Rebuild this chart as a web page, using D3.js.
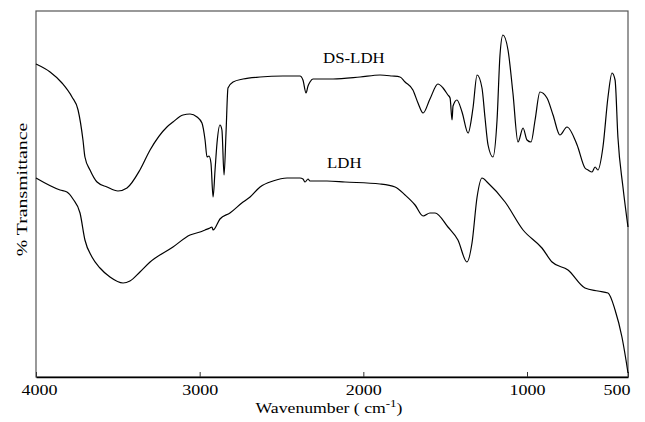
<!DOCTYPE html>
<html>
<head>
<meta charset="utf-8">
<script src="https://cdn.jsdelivr.net/npm/d3@7"></script>
<style>
  body { margin: 0; background: #fff; }
  text { font-family: "Liberation Serif", "Times New Roman", serif; fill: #000; }
</style>
</head>
<body>
<div id="canvas"></div>
<script>
// wavenumber (cm-1), transmittance (arbitrary, curves offset)
const dsLdh = [
  [4000,62.6],[3914,61.0],[3841,58.8],[3780,56.0],[3743,53.4],[3713,47.4],[3701,44.0],[3670,41.4],
  [3627,39.0],[3566,38.0],[3499,37.2],[3444,37.8],[3365,41.4],[3303,45.4],[3200,50.0],[3163,51.0],
  [3102,52.4],[3059,52.6],[3016,52.0],[2986,50.8],[2967,47.4],[2955,44.0],[2943,44.2],[2931,42.8],
  [2918,36.0],[2906,41.4],[2894,46.8],[2876,50.4],[2864,49.4],[2851,40.4],[2839,48.8],[2827,57.8],
  [2796,59.0],[2735,59.6],[2631,60.0],[2491,60.2],[2387,60.2],[2369,59.4],[2350,56.8],[2338,58.2],
  [2326,59.0],[2308,59.6],[2185,59.6],[2020,60.0],[1898,60.4],[1825,60.2],[1776,60.0],[1745,59.0],
  [1697,57.4],[1666,54.8],[1635,52.8],[1593,55.6],[1544,58.6],[1513,57.8],[1483,56.4],[1470,55.8],
  [1458,51.4],[1452,54.2],[1428,55.4],[1397,53.0],[1360,48.8],[1330,53.8],[1305,60.4],[1275,57.8],
  [1257,52.0],[1238,46.4],[1208,44.0],[1183,51.4],[1165,64.4],[1147,68.4],[1116,65.4],[1086,56.8],
  [1055,47.0],[1024,49.8],[1000,47.4],[980,47.0],[960,51.4],[936,57.0],[901,55.8],[871,52.4],
  [837,48.4],[802,50.0],[752,46.4],[713,41.8],[698,41.4],[678,41.0],[663,42.0],[649,41.4],
  [624,46.0],[599,56.0],[579,60.8],[564,59.4],[550,48.0],[525,38.0],[500,30.0]
];

const ldh = [
  [4000,39.8],[3853,37.4],[3811,37.0],[3774,35.6],[3731,32.8],[3701,27.4],[3658,24.0],[3609,21.8],
  [3548,20.0],[3468,18.8],[3426,19.2],[3365,21.0],[3303,23.0],[3163,26.0],[3059,28.4],[2998,29.0],
  [2967,29.4],[2937,29.8],[2925,30.0],[2918,29.4],[2876,31.6],[2815,32.8],[2735,35.0],[2692,36.0],
  [2631,38.0],[2552,39.2],[2466,39.8],[2387,39.8],[2369,39.6],[2356,39.0],[2338,39.6],[2326,39.2],
  [2222,39.2],[2112,39.0],[1898,38.6],[1806,38.0],[1745,36.4],[1684,34.4],[1635,32.2],[1593,32.8],
  [1562,32.8],[1483,30.0],[1422,27.4],[1367,23.0],[1336,26.8],[1305,36.0],[1275,39.8],[1238,38.8],
  [1134,35.0],[1024,29.4],[926,25.8],[876,23.0],[797,21.4],[713,17.8],[649,17.2],[599,16.8],
  [564,13.4],[530,8.0],[510,3.4],[500,0.8]
];

const xTicks = [4000, 3000, 2000, 1000, 500];
const labels = [
  { name: "DS-LDH", wn: 2246, t: 62.8 },
  { name: "LDH", wn: 2222, t: 41.8 }
];

const width = 645;
const height = 422;
const margin = { top: 11, left: 36, bottom: 45, right: 17 };
const iwidth = width - margin.left - margin.right;
const iheight = height - margin.top - margin.bottom;

const svg = d3.select("#canvas").append("svg")
    .attr("width", width)
    .attr("height", height);

const g = svg.append("g").attr("transform", `translate(${margin.left},${margin.top})`);

// the axis is stretched below 1000 in the original plot
const x = d3.scaleLinear()
    .domain([4000, 1000, 500])
    .range([0, 491, iwidth]);

const y = d3.scaleLinear()
    .domain([0, 73.2])
    .range([iheight, 0]);

// frame
g.append("rect")
    .attr("width", iwidth)
    .attr("height", iheight)
    .style("fill", "none")
    .style("stroke", "#555")
    .style("stroke-width", 1.2);

const xAxis = g.append("g")
    .attr("transform", `translate(0, ${iheight})`)
    .call(d3.axisBottom(x)
        .tickValues(xTicks)
        .tickFormat(d3.format("d"))
        .tickSizeInner(-5)
        .tickSizeOuter(0)
        .tickPadding(7));

xAxis.select(".domain").style("stroke", "#000").style("stroke-width", 1.3);
xAxis.selectAll(".tick line").style("stroke", "#333");
xAxis.selectAll(".tick text")
    .style("font-size", "15px")
    .style("font-family", "Liberation Serif")
    .attr("text-anchor", d => d === 500 ? "end" : "middle")
    .attr("x", d => d === 500 ? 2 / 1.2 : (d === 4000 ? 3 / 1.2 : 0))
    .attr("transform", "scale(1.2,1)");

const line = d3.line()
    .x(d => x(d[0]))
    .y(d => y(d[1]))
    .curve(d3.curveMonotoneX);

[dsLdh, ldh].forEach(s => {
  g.append("path")
      .datum(s)
      .attr("d", line)
      .style("fill", "none")
      .style("stroke", "#000")
      .style("stroke-width", 1.2);
});

g.selectAll(".lbl").data(labels).enter().append("text")
    .attr("class", "lbl")
    .attr("transform", d => `translate(${x(d.wn)},${y(d.t)}) scale(1.2,1)`)
    .style("font-size", "14px")
    .text(d => d.name);

// axis titles
const xt = svg.append("text")
    .attr("transform", "translate(329,413) scale(1.18,1)")
    .attr("text-anchor", "middle")
    .style("font-size", "15px");
xt.append("tspan").text("Wavenumber ( cm");
xt.append("tspan").attr("dy", -6).style("font-size", "11px").text("-1");
xt.append("tspan").attr("dy", 6).text(")");

svg.append("text")
    .attr("transform", "translate(27,189.5) rotate(-90) scale(1.32,1)")
    .attr("text-anchor", "middle")
    .style("font-size", "15px")
    .text("% Transmittance");
</script>
</body>
</html>
